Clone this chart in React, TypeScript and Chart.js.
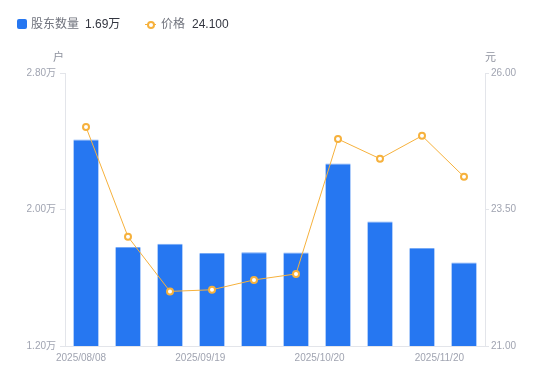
import React, { useEffect, useRef } from "react";
import { Chart, registerables } from "chart.js";

Chart.register(...registerables);

const categories = [
  "2025/08/08", "2025/08/20", "2025/08/29", "2025/09/19", "2025/09/30",
  "2025/10/10", "2025/10/20", "2025/10/31", "2025/11/10", "2025/11/20",
];
const shownLabelIndexes = [0, 3, 6, 9];
const holders = [2.41, 1.78, 1.80, 1.745, 1.75, 1.748, 2.27, 1.93, 1.775, 1.69]; // 万户
const prices = [25.01, 23.0, 22.0, 22.03, 22.21, 22.32, 24.79, 24.43, 24.85, 24.10];
const leftTicks = { min: 1.2, max: 2.8, step: 0.8 };
const rightTicks = { min: 21, max: 26, step: 2.5 };
const legendHolders = "1.69万";
const legendPrice = "24.100";

const FONT = '"Liberation Sans", Arial, "Noto Sans CJK SC", sans-serif';
const TICK_COLOR = "#a0a4b1";
const AXIS_COLOR = "#e3e5ea";
const BAR_COLOR = "#2677f1";
const BAR_TOP = "#75a9f6";
const LINE_COLOR = "#f6b13c";

const xLabelPlugin = {
  id: "xLabels",
  afterDraw(chart: any) {
    const { ctx, scales } = chart;
    const x = scales.x;
    const n = categories.length;
    ctx.save();
    ctx.font = `10px ${FONT}`;
    ctx.fillStyle = TICK_COLOR;
    ctx.textBaseline = "middle";
    ctx.textAlign = "left";
    for (const i of shownLabelIndexes) {
      const label = categories[i];
      const w = ctx.measureText(label).width;
      const px = x.getPixelForValue(i);
      const left = px - w * (0.6 + (0.4 * i) / (n - 1));
      ctx.fillText(label, left, x.top + 12);
    }
    ctx.restore();
  },
};

export default function App() {
  const ref = useRef<HTMLCanvasElement | null>(null);

  useEffect(() => {
    if (!ref.current) return;
    const chart = new Chart(ref.current, {
      data: {
        labels: categories,
        datasets: [
          {
            type: "line",
            label: "价格",
            data: prices,
            yAxisID: "y1",
            borderColor: LINE_COLOR,
            borderWidth: 1,
            tension: 0,
            pointRadius: 3,
            pointBorderWidth: 2,
            pointBackgroundColor: "#ffffff",
            pointBorderColor: LINE_COLOR,
            order: 0,
          },
          {
            type: "bar",
            label: "股东数量",
            data: holders,
            yAxisID: "y",
            backgroundColor: BAR_COLOR,
            borderColor: BAR_TOP,
            borderWidth: { top: 1, left: 0, right: 0, bottom: 0 },
            borderSkipped: "bottom",
            categoryPercentage: 0.6,
            barPercentage: 1,
            order: 1,
          },
        ],
      } as any,
      options: {
        responsive: false,
        animation: false,
        layout: { padding: { top: 73, left: 0, right: 0, bottom: 0 } },
        plugins: { legend: { display: false }, tooltip: { enabled: false } },
        scales: {
          x: {
            type: "category",
            offset: true,
            grid: { display: false },
            border: { display: true, color: AXIS_COLOR },
            ticks: { display: false },
            afterFit: (s: any) => { s.height = 35; },
          },
          y: {
            position: "left",
            min: leftTicks.min,
            max: leftTicks.max,
            ticks: {
              stepSize: leftTicks.step,
              color: TICK_COLOR,
              font: { family: FONT, size: 10 },
              padding: 4,
              callback: (v: any) => Number(v).toFixed(2) + "万",
            },
            grid: { display: true, drawOnChartArea: false, drawTicks: true, tickLength: 5, color: AXIS_COLOR },
            border: { display: true, color: AXIS_COLOR },
            afterFit: (s: any) => { s.width = 65; },
          },
          y1: {
            position: "right",
            min: rightTicks.min,
            max: rightTicks.max,
            ticks: {
              stepSize: rightTicks.step,
              color: TICK_COLOR,
              font: { family: FONT, size: 10 },
              padding: 2,
              callback: (v: any) => Number(v).toFixed(2),
            },
            grid: { display: true, drawOnChartArea: false, drawTicks: true, tickLength: 4, color: AXIS_COLOR },
            border: { display: true, color: AXIS_COLOR },
            afterFit: (s: any) => { s.width = 65; },
          },
        },
      } as any,
      plugins: [xLabelPlugin],
    });
    return () => chart.destroy();
  }, []);

  const text12: React.CSSProperties = { fontFamily: FONT, fontSize: 12, position: "absolute", lineHeight: "14px", whiteSpace: "nowrap" };

  return (
    <div style={{ position: "fixed", left: 0, top: 0, width: 550, height: 381, background: "#fff" }}>
      <canvas ref={ref} width={550} height={381} style={{ position: "absolute", left: 0, top: 0, width: 550, height: 381 }} />
      <div style={{ position: "absolute", left: 17, top: 19, width: 10, height: 10, borderRadius: 2, background: BAR_COLOR }} />
      <span style={{ ...text12, left: 31, top: 17, color: "#70737d" }}>股东数量</span>
      <span style={{ ...text12, left: 85, top: 17, color: "#333640" }}>{legendHolders}</span>
      <div style={{ position: "absolute", left: 145, top: 23.5, width: 11, height: 1.5, background: LINE_COLOR }} />
      <div style={{ position: "absolute", left: 147, top: 20.5, width: 4, height: 4, borderRadius: "50%", border: `2px solid ${LINE_COLOR}`, background: "#fff" }} />
      <span style={{ ...text12, left: 161, top: 17, color: "#70737d" }}>价格</span>
      <span style={{ ...text12, left: 192, top: 17, color: "#333640" }}>{legendPrice}</span>
      <span style={{ ...text12, fontSize: 11, left: 53, top: 50, color: "#8e929e" }}>户</span>
      <span style={{ ...text12, fontSize: 11, left: 485, top: 50, color: "#8e929e" }}>元</span>
    </div>
  );
}
